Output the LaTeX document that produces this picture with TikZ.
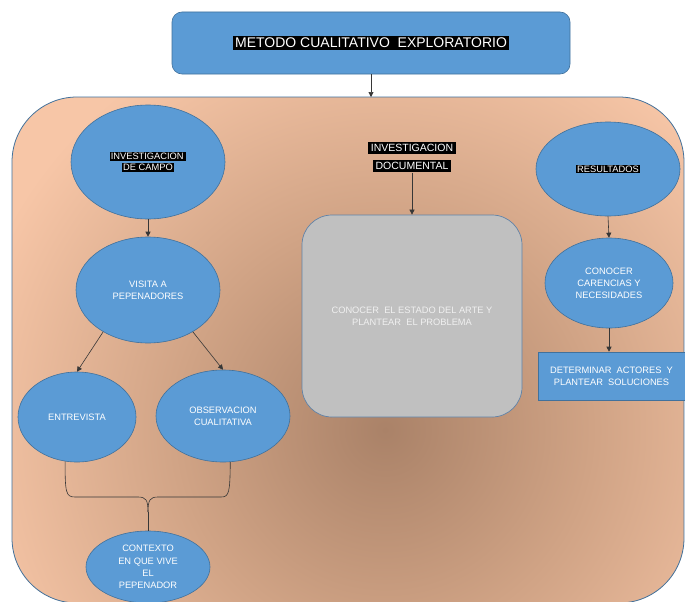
\documentclass[tikz,border=0pt]{standalone}
\usepackage{fontspec}
\setmainfont{Liberation Sans}
\usetikzlibrary{shapes.geometric,arrows.meta}
\definecolor{boxblue}{RGB}{91,155,213}
\definecolor{edgeblue}{RGB}{65,113,156}
\definecolor{graybox}{RGB}{192,192,192}
\definecolor{grayedge}{RGB}{95,130,168}
\definecolor{pdark}{RGB}{170,130,104}
\definecolor{pmid}{RGB}{208,163,133}
\definecolor{plight}{RGB}{247,198,167}
\definecolor{linegray}{RGB}{55,55,55}
\definecolor{lighttext}{RGB}{240,240,240}
\pgfdeclareradialshading{peachshade}{\pgfpoint{0bp}{0bp}}{color(0bp)=(pdark); color(12bp)=(pmid); color(25bp)=(plight); color(50bp)=(plight)}
\newcommand{\hlbox}[2][1.2pt]{{\setlength{\fboxsep}{#1}\colorbox{black}{#2}}}
\begin{document}
\begin{tikzpicture}[x=1pt,y=-1pt,
  blueell/.style={ellipse, draw=edgeblue, fill=boxblue, line width=0.6pt, inner sep=0pt, text=white, align=center, font=\fontsize{9.3}{12.2}\selectfont},
  bluerect/.style={rectangle, draw=edgeblue, fill=boxblue, line width=0.6pt, inner sep=0pt, text=white, align=center, font=\fontsize{9.3}{12.2}\selectfont},
  conn/.style={draw=linegray, line width=0.6pt, -{Triangle[length=5pt,width=5pt]}},
  bracestyle/.style={draw=linegray, line width=0.6pt}]
\useasboundingbox (0,0) rectangle (685,602);
\fill[white] (0,0) rectangle (685,602);
% outer panel
\begin{scope}
\clip[rounded corners=65pt] (12,97) rectangle (684,603);
\fill[plight] (0,90) rectangle (685,610);
\shade[shading=peachshade] (385,430) circle (430);
\end{scope}
\draw[edgeblue, line width=0.8pt, rounded corners=65pt] (12,97) rectangle (684,603);
\coordinate (paneltop) at (371,97);
% title
\node[bluerect, rounded corners=10pt, minimum width=398pt, minimum height=62pt, font=\fontsize{14}{16}\selectfont] (title) at (371,43) {\hlbox[2.5pt]{METODO CUALITATIVO\ \ EXPLORATORIO}};
\draw[conn] (title.south) -- (paneltop);
% left column
\node[blueell, minimum width=154pt, minimum height=114pt] (campo) at (148,162) {\hlbox{INVESTIGACION\,}\\[-1.5pt]\hlbox{DE CAMPO}};
\node[blueell, minimum width=144pt, minimum height=106pt] (visita) at (148,290) {VISITA A\\PEPENADORES};
\node[blueell, minimum width=118pt, minimum height=90pt] (ent) at (77,417) {ENTREVISTA};
\node[blueell, minimum width=134pt, minimum height=92pt] (obs) at (223,416) {OBSERVACION\\CUALITATIVA};
\node[blueell, minimum width=124pt, minimum height=72pt] (ctx) at (148,567) {CONTEXTO\\EN QUE VIVE\\EL\\PEPENADOR};
\draw[conn] (campo.south) -- (visita.north);
\draw[conn] (visita.223) -- (ent.north);
\draw[conn] (visita.317) -- (obs.north);
\coordinate (bracemid) at (148,512);
\draw[bracestyle] (ent.255) .. controls (65,493) and (66,497) .. (75,497) -- (138,497) .. controls (146,497) and (148,500) .. (bracemid);
\draw[bracestyle] (obs.279) .. controls (230,493) and (229,497) .. (221,497) -- (158,497) .. controls (150,497) and (148,500) .. (bracemid);
\draw[bracestyle] (bracemid) -- (ctx.north);
% center column
\node[align=center, text=white, inner sep=0pt, font=\fontsize{10.5}{18}\selectfont] (doc) at (412,157) {\hlbox[2.6pt]{INVESTIGACION}\\\hlbox[2.6pt]{DOCUMENTAL}};
\node[rectangle, rounded corners=30pt, draw=grayedge, fill=graybox, line width=0.7pt, minimum width=220pt, minimum height=202pt, text=lighttext, align=center, font=\fontsize{9.3}{12.2}\selectfont] (arte) at (412,316) {CONOCER\ \ EL ESTADO DEL ARTE Y\\PLANTEAR\ \ EL PROBLEMA};
\draw[conn] (doc.south) -- (arte.north);
% right column
\node[blueell, minimum width=144pt, minimum height=94pt] (res) at (608,169) {\hlbox{RESULTADOS}};
\node[blueell, minimum width=128pt, minimum height=90pt] (car) at (609,283) {CONOCER\\CARENCIAS Y\\NECESIDADES};
\node[bluerect, minimum width=147pt, minimum height=48pt] (det) at (611.5,376) {DETERMINAR\ \ ACTORES\ \ Y\\PLANTEAR\ \ SOLUCIONES};
\draw[conn] (res.south) -- (car.north);
\draw[conn] (car.south) -- (det.north -| car.south);
\end{tikzpicture}
\end{document}
